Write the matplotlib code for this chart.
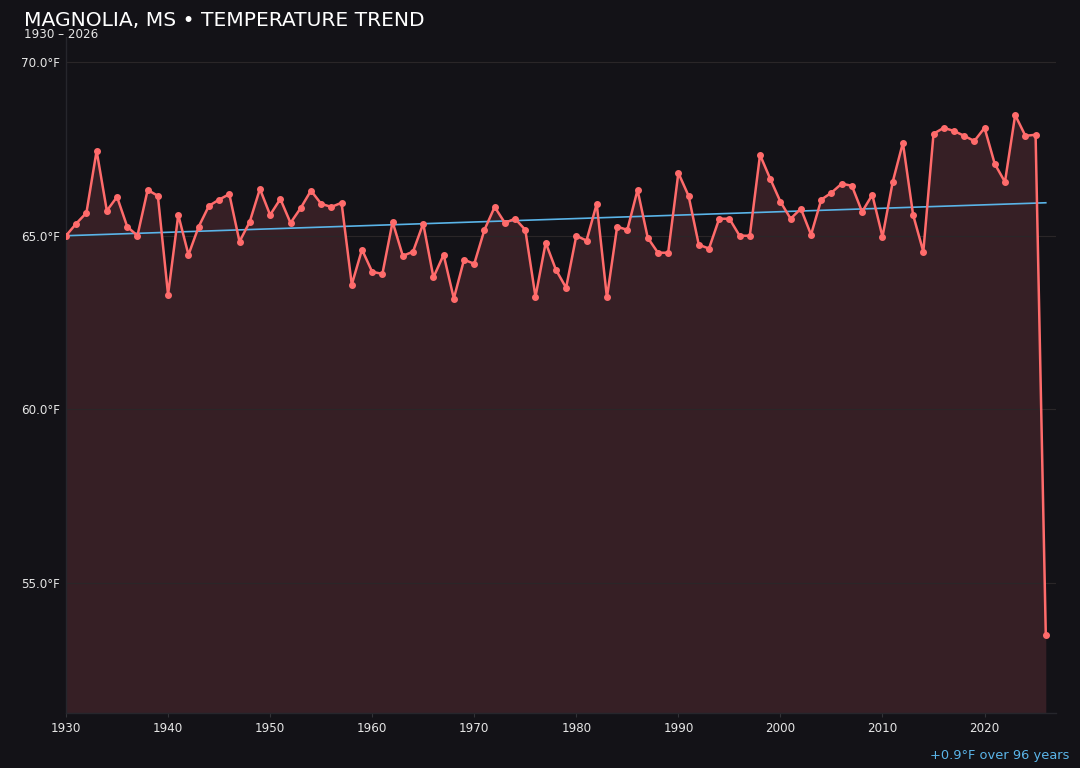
import numpy as np
import matplotlib
matplotlib.use("Agg")
import matplotlib.pyplot as plt

years = list(range(1930, 2027))
temps = [
    65.00, 65.35, 65.66, 67.45, 65.72, 66.12, 65.26, 65.00, 66.32, 66.15,
    63.30, 65.60, 64.45, 65.26, 65.86, 66.04, 66.20, 64.83, 65.40, 66.35,
    65.60, 66.06, 65.37, 65.80, 66.30, 65.92, 65.83, 65.95, 63.59, 64.60,
    63.96, 63.90, 65.40, 64.42, 64.54, 65.35, 63.80, 64.45, 63.19, 64.31,
    64.19, 65.17, 65.83, 65.37, 65.49, 65.17, 63.24, 64.80, 64.02, 63.50,
    65.00, 64.86, 65.92, 63.22, 65.26, 65.17, 66.32, 64.94, 64.51, 64.51,
    66.81, 66.15, 64.74, 64.63, 65.49, 65.49, 65.00, 65.00, 67.33, 66.64,
    65.98, 65.49, 65.78, 65.03, 66.04, 66.24, 66.50, 66.44, 65.69, 66.18,
    64.97, 66.55, 67.68, 65.60, 64.54, 67.94, 68.11, 68.02, 67.88, 67.73,
    68.11, 67.07, 66.55, 68.48, 67.88, 67.91, 53.49,
]
trend_years = [1930, 2026]
trend_values = [65.00, 65.95]
yticks = [55.0, 60.0, 65.0, 70.0]
xticks = [1930, 1940, 1950, 1960, 1970, 1980, 1990, 2000, 2010, 2020]
title = "MAGNOLIA, MS \u2022 TEMPERATURE TREND"
subtitle = "1930 \u2013 2026"
note = "+0.9\u00b0F over 96 years"

BG = "#131217"
LINE = "#ff6b6b"
FILL = "#361f25"
TREND = "#5ab4e8"
TXT = "#e6e6e6"

fig = plt.figure(figsize=(10.8, 7.68), dpi=100, facecolor=BG)
ax = fig.add_axes([66/1080, 1 - 713/768, (1056-66)/1080, (713-37)/768])
ax.set_facecolor(BG)

ymin = min(temps); ymax = max(temps); rng = ymax - ymin
lo = ymin - 0.15 * rng
hi = ymax + 0.15 * rng

ax.fill_between(years, temps, lo, color=FILL, zorder=1, linewidth=0)
ax.plot(trend_years, trend_values, color=TREND, lw=1.2, zorder=2)
ax.plot(years, temps, color=LINE, lw=1.8, marker="o", ms=4, zorder=3)

ax.set_xlim(1930, 2027)
ax.set_ylim(lo, hi)
ax.set_yticks(yticks)
ax.set_yticklabels([f"{v:.1f}\u00b0F" for v in yticks])
ax.set_xticks(xticks)
ax.grid(axis="y", color="#2a2628", lw=0.8, zorder=0)
ax.grid(axis="x", visible=False)
ax.tick_params(axis="y", length=0, colors=TXT, labelsize=8.6, pad=4)
ax.tick_params(axis="x", length=3, color="#333338", colors=TXT, labelsize=8.6)
for s in ["top", "right"]:
    ax.spines[s].set_visible(False)
for s in ["left", "bottom"]:
    ax.spines[s].set_color("#26262c")
    ax.spines[s].set_linewidth(1)

fig.text(24/1080, 1 - 21/768, title, color="white", fontsize=14.6, va="center", ha="left")
fig.text(24/1080, 1 - 35/768, subtitle, color=TXT, fontsize=8.6, va="center", ha="left")
fig.text(1069/1080, 1 - 756/768, note, color=TREND, fontsize=9.4, va="center", ha="right")

fig.savefig("out.png", dpi=100, facecolor=BG)
